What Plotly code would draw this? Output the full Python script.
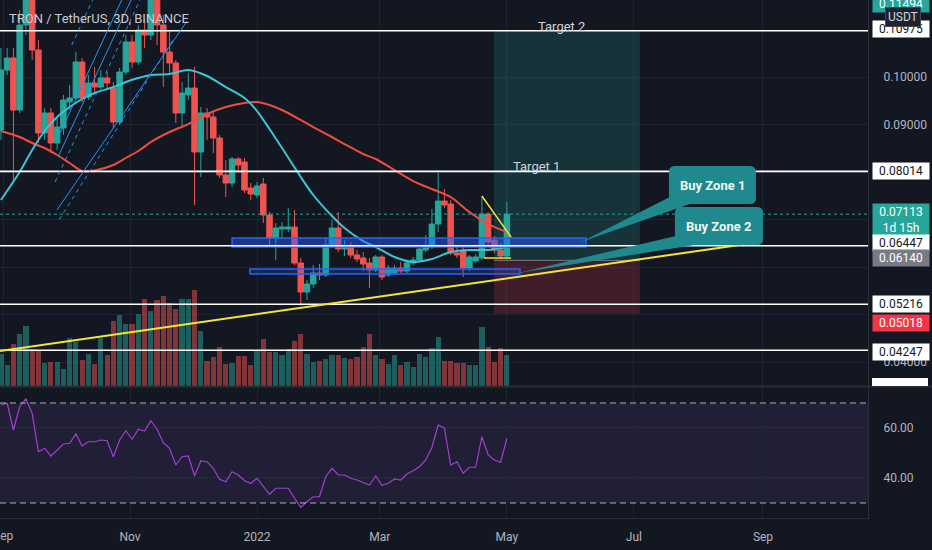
import pandas as pd
import plotly.graph_objects as go

FONT = "Roboto"
BG = "#131722"
GRID = "#1f2330"
AXIS_TXT = "#b2b5be"
UP = "#26a69a"
DOWN = "#ef5350"

# TRX/USDT 3D candles (31 Aug 2021 .. 1 May 2022)
dates = pd.date_range("2021-08-31", periods=82, freq="3D")

opens = [0.08884, 0.10147, 0.10400, 0.09305, 0.11095, 0.11684, 0.10568, 0.08821, 0.09242, 0.08610,
         0.08926, 0.09474, 0.09558, 0.10316, 0.09579, 0.09874, 0.09789, 0.09979, 0.09768, 0.09053,
         0.10105, 0.10737, 0.10316, 0.10989, 0.10884, 0.11684, 0.11095, 0.10526, 0.10295, 0.09242,
         0.09621, 0.09768, 0.08421, 0.09242, 0.09158, 0.08716, 0.07937, 0.07768, 0.08274, 0.08210,
         0.07663, 0.07516, 0.07747, 0.07095, 0.06611, 0.06800, 0.06800, 0.06842, 0.06084, 0.05474,
         0.05642, 0.05874, 0.05832, 0.06463, 0.06821, 0.06379, 0.06442, 0.06253, 0.06189, 0.06084,
         0.05937, 0.06211, 0.05832, 0.05874, 0.05979, 0.05916, 0.06084, 0.06147, 0.06358, 0.06421,
         0.06905, 0.07389, 0.07326, 0.06295, 0.06358, 0.05979, 0.06126, 0.06189, 0.07116, 0.06568,
         0.06358, 0.06232]
highs = [0.10610, 0.10610, 0.10610, 0.11410, 0.11937, 0.11832, 0.10779, 0.09347, 0.09347, 0.09137,
         0.09621, 0.09832, 0.10526, 0.10400, 0.10042, 0.10210, 0.10147, 0.10105, 0.09895, 0.10189,
         0.10884, 0.10884, 0.11095, 0.11200, 0.11937, 0.11832, 0.11305, 0.10989, 0.10358, 0.09895,
         0.10084, 0.10210, 0.09368, 0.09347, 0.09305, 0.08779, 0.08253, 0.08316, 0.08316, 0.08295,
         0.07768, 0.07789, 0.07874, 0.07158, 0.06926, 0.06947, 0.07242, 0.07200, 0.06189, 0.05726,
         0.06042, 0.06063, 0.06611, 0.06989, 0.07158, 0.06568, 0.06526, 0.06358, 0.06316, 0.06189,
         0.06253, 0.06253, 0.06042, 0.06042, 0.06105, 0.06147, 0.06211, 0.06400, 0.06674, 0.07221,
         0.07979, 0.07642, 0.07410, 0.06442, 0.06442, 0.06253, 0.06274, 0.07474, 0.07158, 0.06653,
         0.06505, 0.07368]
lows = [0.08674, 0.10042, 0.07768, 0.09242, 0.10884, 0.10358, 0.08610, 0.08674, 0.08400, 0.08463,
        0.08779, 0.09305, 0.09516, 0.09474, 0.09516, 0.09684, 0.09726, 0.09768, 0.08926, 0.08989,
        0.10042, 0.10189, 0.10253, 0.10610, 0.10779, 0.10674, 0.09789, 0.10042, 0.09032, 0.08947,
        0.09516, 0.07305, 0.07895, 0.08674, 0.08400, 0.07874, 0.07474, 0.07684, 0.07979, 0.07558,
        0.07410, 0.07453, 0.06926, 0.06421, 0.06147, 0.06611, 0.06737, 0.06042, 0.05179, 0.05305,
        0.05558, 0.05726, 0.05789, 0.06400, 0.06316, 0.06232, 0.06189, 0.06105, 0.05916, 0.05558,
        0.05895, 0.05726, 0.05789, 0.05832, 0.05874, 0.05874, 0.06042, 0.06105, 0.06316, 0.06379,
        0.06737, 0.07242, 0.06253, 0.06189, 0.05789, 0.05916, 0.06084, 0.06147, 0.06463, 0.06295,
        0.06168, 0.06189]
closes = [0.10147, 0.10400, 0.09305, 0.11095, 0.11684, 0.10568, 0.08821, 0.09242, 0.08610, 0.08947,
          0.09516, 0.09558, 0.10316, 0.09558, 0.09874, 0.09789, 0.09979, 0.09874, 0.09053, 0.10105,
          0.10737, 0.10316, 0.10989, 0.10884, 0.11684, 0.11095, 0.10526, 0.10295, 0.09242, 0.09663,
          0.09768, 0.08421, 0.09242, 0.09158, 0.08716, 0.07937, 0.07768, 0.08274, 0.08147, 0.07621,
          0.07537, 0.07705, 0.07095, 0.06611, 0.06821, 0.06842, 0.06842, 0.06084, 0.05474, 0.05642,
          0.05874, 0.05832, 0.06463, 0.06821, 0.06379, 0.06442, 0.06253, 0.06168, 0.06063, 0.05937,
          0.06211, 0.05789, 0.05979, 0.05979, 0.05916, 0.06084, 0.06147, 0.06379, 0.06442, 0.06905,
          0.07389, 0.07305, 0.06295, 0.06253, 0.05979, 0.06211, 0.06211, 0.07116, 0.06526, 0.06358,
          0.06232, 0.07113]

# volume in millions TRX (only the relative heights matter)
volume = [800, 525, 1050, 1300, 1500, 925, 875, 575, 600, 600,
          425, 1200, 1100, 650, 800, 550, 1200, 775, 1625, 1775,
          1550, 1550, 1800, 2175, 1875, 2150, 2250, 2075, 1925, 2175,
          2175, 2400, 1375, 625, 725, 975, 550, 575, 750, 750,
          525, 875, 1175, 850, 850, 775, 925, 1125, 1300, 800,
          600, 625, 675, 775, 775, 700, 675, 725, 975, 1300,
          775, 675, 550, 775, 525, 600, 475, 800, 725, 950,
          1225, 625, 625, 575, 575, 525, 525, 1475, 975, 600,
          950, 775]

rsi = [69.2, 69.9, 59.2, 68.5, 71.6, 65.9, 50.5, 51.9, 48.8, 51.2,
       53.6, 53.9, 57.6, 52.8, 54.5, 54.5, 55.2, 54.9, 48.5, 55.2,
       58.9, 55.5, 59.5, 58.8, 62.9, 59.5, 54.1, 51.9, 45.2, 48.5,
       48.8, 40.9, 46.8, 46.5, 43.9, 39.5, 38.5, 42.5, 41.2, 38.9,
       37.9, 39.9, 36.8, 33.5, 35.9, 35.9, 35.9, 31.9, 28.3, 30.5,
       32.5, 32.5, 40.5, 43.9, 41.2, 41.2, 39.9, 39.2, 38.3, 37.2,
       40.8, 37.1, 37.9, 39.6, 39.2, 41.6, 42.9, 44.5, 47.2, 52.2,
       61.2, 59.9, 45.2, 46.5, 41.9, 44.3, 44.3, 56.5, 49.2, 47.2,
       46.3, 55.9]

# moving averages, sampled at these candles
ma_idx = [0, 3, 5, 7, 9, 11, 13, 15, 18, 20, 22, 24, 27, 30, 33, 36, 39, 41, 43, 45,
          48, 50, 53, 55, 58, 60, 63, 66, 69, 72, 75, 78, 81]
ma_slow = [0.08863, 0.08737, 0.08610, 0.08505, 0.08358, 0.08189, 0.08021, 0.08032, 0.08147, 0.08295,
           0.08442, 0.08631, 0.08842, 0.09010, 0.09221, 0.09368, 0.09453, 0.09474, 0.09411, 0.09305,
           0.09095, 0.08947, 0.08737, 0.08589, 0.08379, 0.08274, 0.08042, 0.07810, 0.07642, 0.07474,
           0.07158, 0.06905, 0.06737]
ma_fast = [0.07410, 0.08000, 0.08463, 0.08863, 0.09158, 0.09368, 0.09537, 0.09663, 0.09789, 0.09895,
           0.09979, 0.10042, 0.10063, 0.10147, 0.10021, 0.09789, 0.09558, 0.09284, 0.08905, 0.08505,
           0.07895, 0.07516, 0.07074, 0.06821, 0.06547, 0.06421, 0.06211, 0.06105, 0.06168, 0.06316,
           0.06358, 0.06358, 0.06421]

month_ticks = ["2021-09-01", "2021-11-01", "2022-01-01", "2022-03-01", "2022-05-01", "2022-07-01", "2022-09-01"]
month_text = ["Sep", "Nov", "2022", "Mar", "May", "Jul", "Sep"]

# levels drawn on the chart
levels = [0.10975, 0.08014, 0.06447, 0.05216, 0.04247]
last_price = 0.07113
entry, target, stop = 0.06140, 0.10975, 0.05018
position_x = ("2022-04-24 19:00", "2022-07-03 22:00")
zone1 = ("2021-12-20", "2022-06-08", 0.06421, 0.06611)
zone2 = ("2021-12-28 14:00", "2022-05-07 07:00", 0.05853, 0.05958)
trend_line = [("2021-08-30 13:00", 0.04231), ("2022-08-28 05:00", 0.06511)]
triangle = [("2022-04-19", 0.07495), ("2022-05-03", 0.06631), ("2022-04-20", 0.06189), ("2022-05-03", 0.06189)]
channel = [  # (start, end, dashed)
    (("2021-09-27 10:00", 0.08316), ("2021-11-01 12:00", 0.11621), False),
    (("2021-09-28 10:00", 0.08821), ("2021-10-28", 0.11621), False),
    (("2021-09-26", 0.07789), ("2021-11-05 19:00", 0.11621), True),
    (("2021-10-04", 0.10674), ("2021-10-14", 0.11621), True),
    (("2021-09-26 22:00", 0.07200), ("2021-11-28 10:00", 0.11179), False),
    (("2021-09-28", 0.07000), ("2021-11-22", 0.10800), True),
]
callouts = [  # text, box (x0, x1, y0, y1), wedge base 1, base 2, tip
    ("Buy Zone 1", ("2022-07-17 20:00", "2022-08-28 15:00", 0.07326, 0.08126),
     ("2022-07-18 07:00", 0.07474), ("2022-07-27 22:00", 0.07326), ("2022-06-05 14:00", 0.06526)),
    ("Buy Zone 2", ("2022-07-20 17:00", "2022-09-01", 0.06463, 0.07263),
     ("2022-07-21 05:00", 0.06653), ("2022-07-30 07:00", 0.06463), ("2022-05-06 07:00", 0.05874)),
]
targets = [("Target 2", "2022-05-27", 0.11053), ("Target 1", "2022-05-15", 0.08126)]

x_range = ["2021-08-30 13:25", "2022-10-21 10:20"]
y_range = [0.03495, 0.11621]

PLOT_W, PRICE_H = 868, 386


def ms(d):
    return pd.Timestamp(d).value / 1e6


MS_PER_PX = (ms(x_range[1]) - ms(x_range[0])) / PLOT_W
PRICE_PER_PX = (y_range[1] - y_range[0]) / PRICE_H


def rounded_box(x0, x1, y0, y1, r=6):
    a, b = ms(x0), ms(x1)
    rx, ry = r * MS_PER_PX, r * PRICE_PER_PX
    return (f"M{a + rx},{y1} L{b - rx},{y1} Q{b},{y1} {b},{y1 - ry} L{b},{y0 + ry} "
            f"Q{b},{y0} {b - rx},{y0} L{a + rx},{y0} Q{a},{y0} {a},{y0 + ry} "
            f"L{a},{y1 - ry} Q{a},{y1} {a + rx},{y1} Z")


fig = go.Figure()

vol_colors = ["rgba(38,166,154,0.5)" if c >= o else "rgba(239,83,80,0.5)" for o, c in zip(opens, closes)]
fig.add_trace(go.Bar(x=dates, y=volume, marker_color=vol_colors, marker_line_width=0,
                     width=2.5 * 86400000, xaxis="x", yaxis="y3"))

fig.add_trace(go.Candlestick(
    x=dates, open=opens, high=highs, low=lows, close=closes,
    increasing=dict(line=dict(color=UP, width=1), fillcolor=UP),
    decreasing=dict(line=dict(color=DOWN, width=1), fillcolor=DOWN),
    whiskerwidth=0, xaxis="x", yaxis="y"))

ma_dates = dates[ma_idx]
fig.add_trace(go.Scatter(x=ma_dates, y=ma_slow, mode="lines", line=dict(color="#ef4b3f", width=2, shape="spline", smoothing=0.8),
                         xaxis="x", yaxis="y"))
fig.add_trace(go.Scatter(x=ma_dates, y=ma_fast, mode="lines", line=dict(color="#3cc5d4", width=2, shape="spline", smoothing=0.8),
                         xaxis="x", yaxis="y"))

fig.add_trace(go.Scatter(x=dates, y=rsi, mode="lines", line=dict(color="#a040d0", width=1.2),
                         xaxis="x2", yaxis="y2"))

shapes = []
# RSI band and bounds
shapes.append(dict(type="rect", xref="paper", x0=0, x1=1, yref="y2", y0=30, y1=70,
                   fillcolor="rgba(126,87,194,0.13)", line_width=0, layer="below"))
for lvl in (30, 70):
    shapes.append(dict(type="line", xref="paper", x0=0, x1=1, yref="y2", y0=lvl, y1=lvl,
                       line=dict(color="rgba(200,202,210,0.85)", width=1, dash="6px,4px")))
# pane separator
shapes.append(dict(type="line", xref="paper", x0=0, x1=1.08, yref="paper", y0=0.2538, y1=0.2538,
                   line=dict(color="#2a2e39", width=2)))

# long position tool
shapes.append(dict(type="rect", xref="x", yref="y", x0=position_x[0], x1=position_x[1], y0=entry, y1=target,
                   fillcolor="rgba(38,166,154,0.2)", line_width=0))
shapes.append(dict(type="rect", xref="x", yref="y", x0=position_x[0], x1=position_x[1], y0=stop, y1=entry,
                   fillcolor="rgba(242,54,69,0.2)", line_width=0))
shapes.append(dict(type="line", xref="x", yref="y", x0=position_x[0], x1=position_x[1], y0=entry, y1=entry,
                   line=dict(color="#787b86", width=1)))

# buy zones
for z, fill in ((zone1, "rgba(41,98,255,0.45)"), (zone2, "rgba(41,98,255,0.22)")):
    shapes.append(dict(type="rect", xref="x", yref="y", x0=z[0], x1=z[1], y0=z[2], y1=z[3],
                       fillcolor=fill, line=dict(color="#2962ff", width=1.5)))

# horizontal levels
for lvl in levels:
    shapes.append(dict(type="line", xref="paper", x0=0, x1=1, yref="y", y0=lvl, y1=lvl,
                       line=dict(color="#ffffff", width=1.6)))
shapes.append(dict(type="line", xref="paper", x0=0, x1=1, yref="y", y0=last_price, y1=last_price,
                   line=dict(color=UP, width=1, dash="dot")))

# parallel channel
for (a, b, dashed) in channel:
    shapes.append(dict(type="line", xref="x", yref="y", x0=a[0], y0=a[1], x1=b[0], y1=b[1],
                       line=dict(color="#2196f3", width=1, dash="4px,4px" if dashed else "solid")))

# trend line and triangle
shapes.append(dict(type="line", xref="x", yref="y", x0=trend_line[0][0], y0=trend_line[0][1],
                   x1=trend_line[1][0], y1=trend_line[1][1], line=dict(color="#f5e33b", width=2)))
shapes.append(dict(type="line", xref="x", yref="y", x0=triangle[0][0], y0=triangle[0][1],
                   x1=triangle[1][0], y1=triangle[1][1], line=dict(color="#f5e33b", width=1.5)))
shapes.append(dict(type="line", xref="x", yref="y", x0=triangle[2][0], y0=triangle[2][1],
                   x1=triangle[3][0], y1=triangle[3][1], line=dict(color="#f5e33b", width=1.5)))

# callouts
CALLOUT = "#20898e"
annotations = []
for text, box, b1, b2, tip in callouts:
    shapes.append(dict(type="path", xref="x", yref="y",
                       path=f"M{ms(b1[0])},{b1[1]} L{ms(tip[0])},{tip[1]} L{ms(b2[0])},{b2[1]} Z",
                       fillcolor=CALLOUT, line_width=0))
    shapes.append(dict(type="path", xref="x", yref="y", path=rounded_box(*box),
                       fillcolor=CALLOUT, line_width=0))
    mid = pd.Timestamp(box[0]) + (pd.Timestamp(box[1]) - pd.Timestamp(box[0])) / 2
    annotations.append(dict(xref="x", yref="y", x=mid, y=(box[2] + box[3]) / 2, text=f"<b>{text}</b>",
                            showarrow=False, font=dict(family=FONT, size=13, color="#eef6f6")))

for text, d, p in targets:
    annotations.append(dict(xref="x", yref="y", x=d, y=p, text=text, showarrow=False,
                            font=dict(family=FONT, size=13, color="#d1d4dc")))

annotations.append(dict(xref="paper", yref="paper", x=0, y=1, xanchor="left", yanchor="top", xshift=7, yshift=-9,
                        text="TRON / TetherUS, 3D, BINANCE", showarrow=False,
                        font=dict(family=FONT, size=13, color="#c9ccd3")))
# first month label sits on the left edge and is cut there
annotations.append(dict(xref="x2", yref="paper", x=month_ticks[0], y=0, yanchor="top", yshift=-9,
                        text=month_text[0], showarrow=False, font=dict(family=FONT, size=12, color=AXIS_TXT)))


def price_tag(price, text, bg, fg, shift=0):
    return dict(xref="paper", x=1, xanchor="left", xshift=4, yref="y", y=price, yanchor="middle",
                yshift=shift, text=text, showarrow=False, bgcolor=bg, width=54, borderpad=1,
                font=dict(family=FONT, size=12, color=fg))


annotations += [
    price_tag(0.10975, "0.10975", "#ffffff", "#131722", 2),
    price_tag(0.08014, "0.08014", "#ffffff", "#131722"),
    price_tag(last_price, "0.07113<br>1d 15h", UP, "#ffffff", -6),
    price_tag(0.06447, "0.06447", "#ffffff", "#131722", 3),
    price_tag(entry, "0.06140", "#787b86", "#ffffff", 2),
    price_tag(0.05216, "0.05216", "#ffffff", "#131722"),
    price_tag(stop, "0.05018", "#f23645", "#ffffff", -9),
    price_tag(0.04247, "0.04247", "#ffffff", "#131722", -2),
    dict(xref="paper", x=1, xanchor="left", xshift=4, yref="paper", y=1, yanchor="top", yshift=5,
         text="0.11494", showarrow=False, bgcolor=UP, width=54, borderpad=1,
         font=dict(family=FONT, size=12, color="#ffffff")),
    dict(xref="paper", x=1, xanchor="left", xshift=17, yref="paper", y=1, yanchor="top", yshift=-7,
         text="USDT", showarrow=False, bgcolor="#1e222d", bordercolor="#434651", borderwidth=1, borderpad=2,
         font=dict(family=FONT, size=12, color="#d1d4dc")),
]
shapes.append(dict(type="rect", xref="paper", x0=872 / 868, x1=928 / 868, yref="paper", y0=0.2548, y1=0.2703,
                   fillcolor="#ffffff", line_width=0))

fig.update_layout(
    width=932, height=550,
    margin=dict(l=0, r=64, t=0, b=32),
    paper_bgcolor=BG, plot_bgcolor=BG,
    showlegend=False, hovermode=False,
    font=dict(family=FONT, color=AXIS_TXT),
    bargap=0, boxgap=0.12, boxgroupgap=0,
    xaxis=dict(domain=[0, 1], anchor="y", type="date", range=x_range, tickvals=month_ticks,
               showticklabels=False, showgrid=True, gridcolor=GRID, zeroline=False,
               rangeslider=dict(visible=False), fixedrange=True),
    xaxis2=dict(domain=[0, 1], anchor="y2", type="date", range=x_range, matches="x",
                tickvals=month_ticks[1:], ticktext=month_text[1:], ticks="", ticklabelstandoff=8,
                tickfont=dict(size=12, color=AXIS_TXT), showgrid=True, gridcolor=GRID,
                showline=True, linecolor="#2a2e39", linewidth=1, zeroline=False),
    yaxis=dict(domain=[0.2548, 1], range=y_range, side="right", anchor="x",
               tickvals=[0.04, 0.05, 0.06, 0.07, 0.08, 0.09, 0.10],
               ticktext=["0.04000", "", "", "", "", "0.09000", "0.10000"],
               ticks="", ticklabelstandoff=12, tickfont=dict(size=12, color=AXIS_TXT),
               showgrid=True, gridcolor=GRID, zeroline=False,
               showline=True, linecolor="#2a2e39", linewidth=1),
    yaxis2=dict(domain=[0, 0.2529], range=[24, 76.4], side="right", anchor="x2",
                tickvals=[40, 60], ticktext=["40.00", "60.00"], ticks="", ticklabelstandoff=12,
                tickfont=dict(size=12, color=AXIS_TXT), showgrid=True, gridcolor="#262a3a",
                zeroline=False, showline=True, linecolor="#2a2e39", linewidth=1),
    yaxis3=dict(overlaying="y", range=[0, 9650], visible=False, fixedrange=True),
    shapes=shapes,
    annotations=annotations,
)

# the page's default body margin would shift the chart by 8px
fig.write_html("out.html", config={"displayModeBar": False},
               post_script="document.body.style.margin='0';document.body.style.background='#131722';")
